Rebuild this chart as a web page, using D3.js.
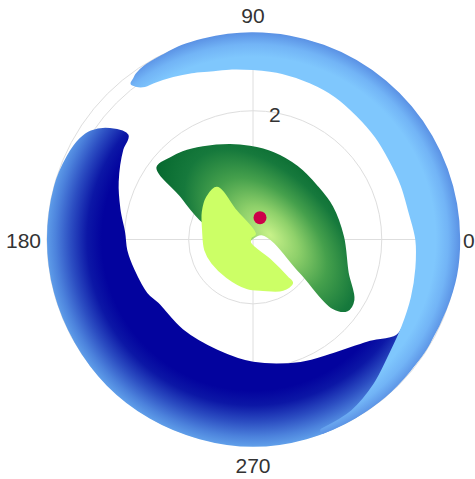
<!DOCTYPE html>
<html>
<head>
<meta charset="utf-8">
<script src="https://cdn.jsdelivr.net/npm/d3@7"></script>
<style>
  html, body { margin: 0; padding: 0; background: #ffffff; }
  svg { display: block; }
</style>
</head>
<body>
<svg id="chart" width="475" height="479"></svg>
<script>
// ---------------- data ----------------
const angularTicks = [0, 90, 180, 270];
const angularTickLabels = ["0", "90", "180", "270"];
const radialTicks = [1, 2, 3];
const radialTickLabels = ["1", "2", "3"];
const radialMax = 3.2;

// light-blue band: angle (deg), inner radius, outer radius
const lightTheta = [127.5, 126.5, 125, 122, 116, 110, 104, 97, 90, 80, 70, 60, 50, 40, 30, 20, 10, 0, -10, -20, -30, -40, -50, -60, -70];
const lightInner = [3.06, 2.99, 2.94, 2.91, 2.85, 2.79, 2.73, 2.70, 2.67, 2.65, 2.62, 2.59, 2.54, 2.51, 2.48, 2.48, 2.49, 2.56, 2.60, 2.65, 2.71, 2.80, 2.96, 3.10, 3.16];
const lightOuter = [3.06, 3.08, 3.12, 3.15, 3.16, 3.18, 3.18, 3.18, 3.18, 3.18, 3.18, 3.18, 3.18, 3.18, 3.18, 3.18, 3.18, 3.18, 3.18, 3.16, 3.15, 3.15, 3.16, 3.16, 3.17];

// dark-blue crescent outline: [angle, radius]
const darkOuterEdge = [[146.4, 3.01], [150, 3.09], [156, 3.14], [165, 3.17], [180, 3.17], [195, 3.17], [210, 3.17], [225, 3.18], [240, 3.18], [255, 3.18], [270, 3.19], [285, 3.18], [300, 3.17], [315, 3.15], [332, 3.12]];
const darkInnerEdge = [[332, 2.75], [326, 2.70], [318, 2.41], [305, 2.19], [291, 2.07], [270, 1.93], [252, 1.83], [232, 1.80], [214, 1.80], [207, 1.87], [194.5, 1.93], [185, 1.99], [177, 2.02], [167.5, 2.14], [157, 2.30], [145.5, 2.48], [140.6, 2.54], [142.6, 2.80]];

// green fan outline: [angle, radius]
const greenOutline = [[143.0, 1.86], [135.5, 1.80], [128.7, 1.74], [118.4, 1.63], [103.7, 1.51], [92, 1.44], [77, 1.38], [58.7, 1.32], [39.4, 1.29], [22.4, 1.33], [1.6, 1.40], [-19.4, 1.56], [-31, 1.82], [-36.9, 1.83], [-40.6, 1.63], [-34.7, 0.89], [31, 0.16], [203, 0.22], [160.7, 0.82], [148.6, 1.33]];

// lime fan outline: [angle, radius]
const limeOutline = [[124.9, 0.98], [137.3, 0.97], [151.2, 0.89], [169.2, 0.79], [192.3, 0.76], [209.8, 0.73], [235.3, 0.71], [262.9, 0.76], [281.2, 0.80], [300.7, 0.91], [311.9, 0.91], [312.2, 0.79], [309.7, 0.41], [229.4, 0.07], [128.7, 0.05], [70, 0.09], [120.8, 0.52]];

// single red point: [angle, radius]
const redPoint = [[72.2, 0.356]];

// ---------------- layout ----------------
const cx = 253, cy = 239.5, R = 206;
const svg = d3.select("#chart");
svg.append("rect").attr("width", 475).attr("height", 479).attr("fill", "#ffffff");
const defs = svg.append("defs");
const g = svg.append("g").attr("transform", `translate(${cx},${cy})`);

const rScale = d3.scaleLinear().domain([0, radialMax]).range([0, R]);
const aScale = d3.scaleLinear().domain([0, 360]).range([Math.PI / 2, Math.PI / 2 - 2 * Math.PI]);
const pt = (t, r) => [rScale(r) * Math.sin(aScale(t)), -rScale(r) * Math.cos(aScale(t))];

function radialGrad(id, r, stops, transform) {
  const gr = defs.append("radialGradient").attr("id", id)
    .attr("gradientUnits", "userSpaceOnUse")
    .attr("cx", 0).attr("cy", 0).attr("r", r);
  if (transform) gr.attr("gradientTransform", transform);
  stops.forEach(([o, c]) => gr.append("stop").attr("offset", o).attr("stop-color", c));
}
radialGrad("gDark", 210, [[0, "#03039e"], [0.72, "#03039e"], [0.79, "#0c17a6"], [0.87, "#2c4ec2"], [0.94, "#4c82dc"], [1, "#66a8ee"]]);
radialGrad("gLight", 210, [[0, "#7fc7fd"], [0.87, "#7fc7fd"], [0.93, "#72b4f6"], [1, "#5589e0"]]);
const glow = pt(15, 0.27);
radialGrad("gGreen", 80, [[0, "#c8f28a"], [0.25, "#8ed06a"], [0.5, "#45a04c"], [0.75, "#16793c"], [1, "#06692f"]],
  `translate(${glow[0]},${glow[1]}) rotate(45) scale(1.75,1)`);

// ---------------- grid ----------------
const gridColor = "#dedede";
g.selectAll("circle.grid").data(radialTicks.concat([radialMax])).join("circle")
  .attr("class", "grid").attr("r", d => rScale(d))
  .attr("fill", "none").attr("stroke", gridColor).attr("stroke-width", 1);
const spoke = d3.lineRadial().angle(d => aScale(d[0])).radius(d => rScale(d[1]));
g.selectAll("path.spoke").data(angularTicks).join("path")
  .attr("class", "spoke").attr("d", t => spoke([[t, 0], [t, radialMax]]))
  .attr("fill", "none").attr("stroke", gridColor).attr("stroke-width", 1);

// radial tick labels (along 90°)
g.selectAll("text.rtick").data(radialTicks).join("text")
  .attr("class", "rtick")
  .attr("x", d => pt(90, d)[0] + 16)
  .attr("y", d => pt(90, d)[1] + 11.5)
  .attr("font-family", "Liberation Sans, Arial, sans-serif")
  .attr("font-size", 21).attr("fill", "#333")
  .text((d, i) => radialTickLabels[i]);

// angular tick labels
g.selectAll("text.atick").data(angularTicks).join("text")
  .attr("class", "atick")
  .attr("font-family", "Liberation Sans, Arial, sans-serif")
  .attr("font-size", 21).attr("fill", "#333")
  .text((d, i) => angularTickLabels[i])
  .each(function (t) {
    const p = pt(t, radialMax);
    const s = d3.select(this);
    if (t === 0) s.attr("x", p[0] + 4).attr("y", p[1] + 8).attr("text-anchor", "start");
    else if (t === 180) s.attr("x", p[0] - 6).attr("y", p[1] + 8).attr("text-anchor", "end");
    else if (t === 90) s.attr("x", p[0]).attr("y", p[1] - 10.5).attr("text-anchor", "middle");
    else s.attr("x", p[0]).attr("y", p[1] + 27.5).attr("text-anchor", "middle");
  });

// ---------------- marks ----------------
const outline = d3.lineRadial().angle(d => aScale(d[0])).radius(d => rScale(d[1]))
  .curve(d3.curveCatmullRomClosed.alpha(0.5));

// dark-blue crescent
g.append("path").attr("d", outline(darkOuterEdge.concat(darkInnerEdge)))
  .attr("fill", "url(#gDark)").attr("stroke", "url(#gDark)")
  .attr("stroke-width", 4).attr("stroke-linejoin", "round");

// light-blue band
const lightData = lightTheta.map((t, i) => ({ t, i: lightInner[i], o: lightOuter[i] }));
const band = d3.areaRadial().angle(d => aScale(d.t))
  .innerRadius(d => rScale(d.i)).outerRadius(d => rScale(d.o))
  .curve(d3.curveCatmullRom.alpha(0.5));
g.append("path").attr("d", band(lightData))
  .attr("fill", "url(#gLight)").attr("stroke", "url(#gLight)")
  .attr("stroke-width", 5).attr("stroke-linejoin", "round");

// green fan
g.append("path").attr("d", outline(greenOutline))
  .attr("fill", "url(#gGreen)").attr("stroke", "url(#gGreen)")
  .attr("stroke-width", 2).attr("stroke-linejoin", "round");

// lime fan
g.append("path").attr("d", outline(limeOutline))
  .attr("fill", "#ccff66").attr("stroke", "#ccff66")
  .attr("stroke-width", 2).attr("stroke-linejoin", "round");

// red point
g.selectAll("circle.red").data(redPoint).join("circle")
  .attr("class", "red")
  .attr("cx", d => pt(d[0], d[1])[0]).attr("cy", d => pt(d[0], d[1])[1])
  .attr("r", 6.5).attr("fill", "#cc0049");
</script>
</body>
</html>
